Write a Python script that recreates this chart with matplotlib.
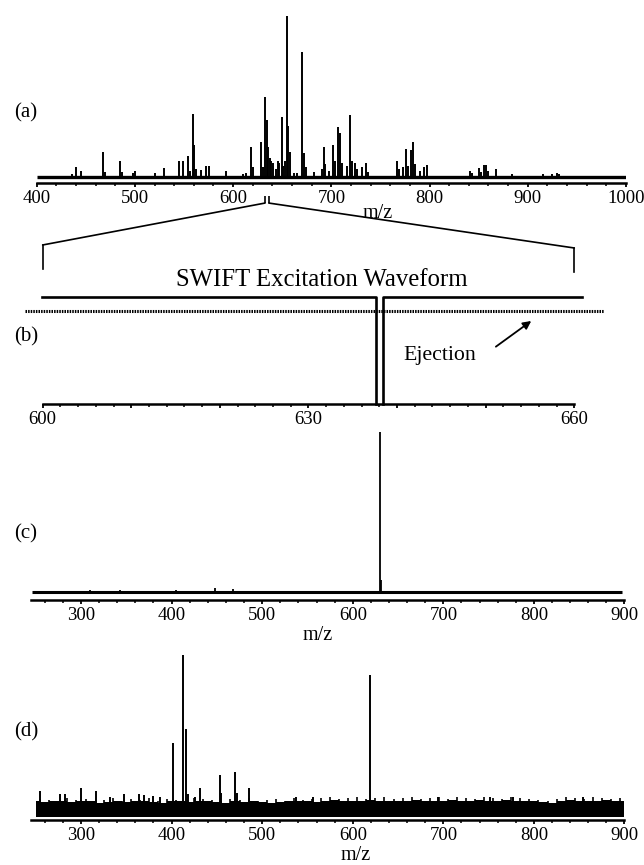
import matplotlib
matplotlib.use("Agg")
import matplotlib.pyplot as plt
from matplotlib.patches import ConnectionPatch
from matplotlib.ticker import MultipleLocator, FixedLocator
import numpy as np

plt.rcParams['font.family'] = ['Liberation Serif', 'DejaVu Serif']

# --- (a) full spectrum, 400-1000 ---
a_mz = [436, 440, 445, 468, 470, 485, 487, 498, 500, 520, 530, 545, 548.5, 553.6,
        556, 558.7, 560, 562, 567, 572, 575, 593, 610, 613, 618.7, 620.5, 627.9,
        630, 632.3, 634.6, 636, 637.5, 639, 641, 644, 645.5, 647, 649.5, 651, 653,
        654.9, 656.2, 658, 662, 665, 670.6, 672, 674, 682, 690, 692.6, 694, 698,
        702, 703.5, 707, 709, 711, 716, 719.4, 721.5, 724, 726, 731, 735.4, 737,
        767, 769, 773, 776, 778, 781, 783.3, 785, 790, 794, 797, 841.4, 843,
        850.6, 852, 855, 857, 859, 867.5, 883.5, 915.8, 925, 930, 932]
a_int = [0.02, 0.062, 0.04, 0.155, 0.03, 0.10, 0.03, 0.025, 0.04, 0.025, 0.058, 0.10,
         0.10, 0.128, 0.04, 0.39, 0.197, 0.05, 0.045, 0.066, 0.066, 0.037, 0.02,
         0.025, 0.186, 0.06, 0.217, 0.06, 0.497, 0.352, 0.186, 0.12, 0.10, 0.087,
         0.05, 0.10, 0.09, 0.373, 0.07, 0.10, 1.0, 0.315, 0.155, 0.025, 0.025,
         0.776, 0.15, 0.06, 0.03, 0.05, 0.186, 0.08, 0.04, 0.197, 0.10, 0.31,
         0.273, 0.09, 0.07, 0.387, 0.10, 0.087, 0.05, 0.06, 0.087, 0.03, 0.10,
         0.05, 0.06, 0.176, 0.07, 0.166, 0.22, 0.08, 0.04, 0.06, 0.075, 0.04,
         0.025, 0.058, 0.03, 0.072, 0.072, 0.04, 0.05, 0.02, 0.02, 0.02, 0.025, 0.02]
zoom_mz = [632.5, 636.3]          # isolation window marked on (a)

# --- (b) SWIFT waveform, 600-660 ---
wave_start, wave_end = 599.9, 660.9
notch_lo, notch_hi = 637.65, 638.4
wave_level = 1.0
eject_level = 0.87
eject_start, eject_end = 598.0, 663.4
b_labels = {600: '600', 630: '630', 660: '660'}

# --- (c) isolated ion ---
c_mz = [310, 343, 405, 448, 468, 630, 631]
c_int = [0.015, 0.015, 0.015, 0.025, 0.02, 1.0, 0.075]

# --- (d) fragment spectrum ---
d_mz = [255, 277, 282, 300, 316, 332, 348, 364, 370, 379.5, 387, 402, 413, 415.5,
        418, 425.5, 431, 453, 455, 469.6, 472, 486, 537.7, 556, 619, 694, 751,
        777, 854, 898]
d_int = [0.16, 0.14, 0.14, 0.18, 0.16, 0.12, 0.14, 0.14, 0.135, 0.13, 0.12, 0.456,
         1.0, 0.54, 0.14, 0.125, 0.18, 0.258, 0.15, 0.278, 0.15, 0.177, 0.12,
         0.125, 0.876, 0.12, 0.125, 0.12, 0.12, 0.10]
noise_mz = np.arange(250, 901, 10)
noise_env = [0.095, 0.09, 0.10, 0.095, 0.09, 0.10, 0.095, 0.085, 0.09, 0.10,
             0.09, 0.095, 0.10, 0.09, 0.085, 0.095, 0.10, 0.09, 0.095, 0.10,
             0.09, 0.085, 0.095, 0.09, 0.10, 0.09, 0.085, 0.09, 0.095, 0.10,
             0.095, 0.09, 0.10, 0.105, 0.10, 0.095, 0.10, 0.105, 0.10, 0.095,
             0.10, 0.095, 0.105, 0.10, 0.095, 0.10, 0.105, 0.095, 0.10, 0.105,
             0.10, 0.095, 0.105, 0.10, 0.095, 0.10, 0.09, 0.085, 0.10, 0.105,
             0.10, 0.095, 0.10, 0.105, 0.095, 0.10]
tips_mz = np.arange(255, 900, 10)
tips_int = [0.11, 0.105, 0.10, 0.115, 0.105, 0.11, 0.10, 0.105, 0.115, 0.10,
            0.11, 0.105, 0.115, 0.10, 0.11, 0.105, 0.10, 0.115, 0.11, 0.105,
            0.10, 0.11, 0.105, 0.115, 0.10, 0.105, 0.11, 0.10, 0.115, 0.105,
            0.11, 0.115, 0.12, 0.11, 0.115, 0.12, 0.11, 0.115, 0.12, 0.11,
            0.115, 0.12, 0.11, 0.115, 0.12, 0.11, 0.12, 0.115, 0.11, 0.12,
            0.115, 0.11, 0.12, 0.115, 0.11, 0.105, 0.10, 0.11, 0.12, 0.115,
            0.11, 0.12, 0.115, 0.11, 0.115]

W, H = 644, 865
fig = plt.figure(figsize=(W / 100, H / 100), dpi=100)


def px_axes(left, right, top, bottom):
    return fig.add_axes([left / W, 1 - bottom / H, (right - left) / W, (bottom - top) / H])


def style(ax, major, minor):
    for s in ['top', 'left', 'right']:
        ax.spines[s].set_visible(False)
    ax.spines['bottom'].set_linewidth(1.8)
    ax.set_yticks([])
    ax.xaxis.set_major_locator(major)
    ax.xaxis.set_minor_locator(minor)
    ax.tick_params(axis='x', which='major', direction='out', length=3.2, width=1.3,
                   labelsize=13.5, pad=2)
    ax.tick_params(axis='x', which='minor', direction='out', length=2.0, width=1.1)
    ax.patch.set_visible(False)


# (a)
ax_a = px_axes(36.7, 626, 16, 183)
ax_a.set_xlim(400, 1000)
ax_a.set_ylim(-0.037, 1.0)
style(ax_a, MultipleLocator(100), MultipleLocator(20))
ax_a.hlines(0, 400, 1000, color='black', lw=2.4)
ax_a.vlines(a_mz, 0, a_int, color='black', lw=1.4, clip_on=False)
ax_a.vlines(zoom_mz, -0.118, -0.1615, color='black', lw=1.2, clip_on=False)

# (b)
ax_b = px_axes(20.5, 609.7, 296.7, 404)
ax_b.set_xlim(597.5, 664)
ax_b.set_ylim(0, 1)
style(ax_b, FixedLocator(np.arange(600, 661, 10)), FixedLocator(np.arange(600, 661, 2)))
ax_b.spines['bottom'].set_bounds(600, 660)
ax_b.set_xticklabels([b_labels.get(int(v), '') for v in np.arange(600, 661, 10)])
ax_b.plot([wave_start, notch_lo, notch_lo], [wave_level, wave_level, 0],
          color='black', lw=1.9, clip_on=False)
ax_b.plot([notch_hi, notch_hi, wave_end], [0, wave_level, wave_level],
          color='black', lw=1.9, clip_on=False)
ax_b.hlines(eject_level, eject_start, eject_end, color='black', lw=2.2,
            linestyles=(0, (0.5, 0.35)), clip_on=False)
ax_b.text(631.5, 1.10, 'SWIFT Excitation Waveform', ha='center', va='baseline', fontsize=17.8)
ax_b.text(640.7, 0.41, 'Ejection', ha='left', va='baseline', fontsize=15.7)
ax_b.annotate('', xy=(655.4, 0.789), xytext=(650.9, 0.519),
              arrowprops=dict(arrowstyle='-|>', lw=1.3, color='black', mutation_scale=12))

# bracket linking (a) to (b)
ax_b.plot([600, 600], [1.482, 1.258], color='black', lw=1.2, clip_on=False)
ax_b.plot([660, 660], [1.454, 1.230], color='black', lw=1.2, clip_on=False)
for xa, xb, yb in [(zoom_mz[0], 600, 1.482), (zoom_mz[1], 660, 1.454)]:
    con = ConnectionPatch(xyA=(xa, -0.1615), coordsA=ax_a.transData,
                          xyB=(xb, yb), coordsB=ax_b.transData, color='black', lw=1.2)
    fig.add_artist(con)

# (c)
ax_c = px_axes(31.2, 624.5, 432, 600)
ax_c.set_xlim(245, 900)
ax_c.set_ylim(-0.05, 1.0)
style(ax_c, MultipleLocator(100), MultipleLocator(20))
ax_c.hlines(0, 246, 897, color='black', lw=2.2)
ax_c.vlines(c_mz, 0, c_int, color='black', lw=1.3, clip_on=False)

# (d)
ax_d = px_axes(31.2, 624.5, 655, 820)
ax_d.set_xlim(245, 900)
ax_d.set_ylim(-0.02, 1.0)
style(ax_d, MultipleLocator(100), MultipleLocator(20))
ax_d.fill_between(noise_mz, 0, noise_env, step='mid', color='black', lw=0)
ax_d.vlines(tips_mz, 0, tips_int, color='black', lw=1.2)
ax_d.vlines(d_mz, 0, d_int, color='black', lw=1.4, clip_on=False)

# panel letters and axis titles
for lab, y in [('(a)', 113), ('(b)', 337), ('(c)', 534), ('(d)', 732)]:
    fig.text(14 / W, 1 - y / H, lab, fontsize=15, ha='left', va='center')
for x, y in [(378, 213.5), (318, 636), (356, 856)]:
    fig.text(x / W, 1 - y / H, 'm/z', fontsize=14.5, ha='center', va='center')

fig.savefig('out.png', dpi=100)
